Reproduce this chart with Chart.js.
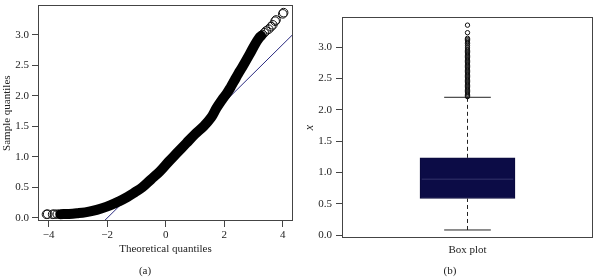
<!DOCTYPE html>
<html><head><meta charset="utf-8">
<script src="https://cdn.jsdelivr.net/npm/chart.js@4.4.1/dist/chart.umd.min.js"></script>
<style>
html,body{margin:0;padding:0;background:#fff;width:598px;height:277px;overflow:hidden}
#wa{position:absolute;left:0;top:0;width:300px;height:277px}
#wb{position:absolute;left:300px;top:0;width:298px;height:277px}
.cap{position:absolute;top:264px;font:11px "Liberation Serif",serif;line-height:13px;color:#222;width:40px;text-align:center}
</style></head><body>
<div id="wa"><canvas id="ca" width="300" height="277"></canvas></div>
<div id="wb"><canvas id="cb" width="298" height="277"></canvas></div>
<div class="cap" style="left:125px">(a)</div>
<div class="cap" style="left:430px">(b)</div>
<script>
// ---- (a) Normal Q-Q plot ----
const bandTheoretical = [-3.6,-3.3,-3.0,-2.75,-2.5,-2.2,-1.9,-1.6,-1.3,-1.05,-0.8,-0.5,-0.2,0.1,0.4,0.7,1.0,1.3,1.55,1.74,1.92,2.09,2.22,2.35,2.48,2.62,2.87,3.05,3.2,3.26];
const bandSample      = [0.062,0.066,0.078,0.092,0.115,0.155,0.205,0.27,0.345,0.42,0.5,0.63,0.76,0.92,1.07,1.22,1.37,1.5,1.64,1.80,1.93,2.04,2.14,2.25,2.36,2.47,2.68,2.84,2.95,2.98];
const tailTheoretical = [-4.07,-4.03,-3.86,-3.80,-3.70,3.31,3.37,3.43,3.52,3.60,3.66,3.74,3.77,4.00,4.03];
const tailSample      = [0.06,0.062,0.06,0.062,0.062,3.00,3.03,3.06,3.09,3.13,3.16,3.22,3.24,3.34,3.36];
const qqLineX = [-2.1, 4.36];
const qqLineY = [-0.05, 3.01];
const qqXTicks = [-4,-2,0,2,4];
const qqYTicks = [0,0.5,1,1.5,2,2.5,3];

// ---- (b) Box plot ----
const boxQuartiles = [0.586, 0.895, 1.235];   // Q1, median, Q3
const whiskerEnds  = [0.085, 2.20];           // lower, upper
const outlierValues = [2.21,2.23,2.25,2.27,2.29,2.31,2.33,2.35,2.37,2.39,2.41,2.43,2.45,2.47,2.49,2.51,2.53,2.55,2.57,2.59,2.61,2.63,2.65,2.67,2.69,2.71,2.73,2.75,2.77,2.79,2.81,2.83,2.85,2.87,2.89,2.91,2.93,2.95,2.97,3.00,3.03,3.06,3.08,3.10,3.12,3.14,3.23,3.35];

const FONT = 'Liberation Serif';
const TXT = '#222';
const AX = '#444';

const framePlugin = {
  id: 'frame',
  afterDraw(chart) {
    const {ctx, chartArea: a} = chart;
    ctx.save();
    ctx.strokeStyle = AX; ctx.lineWidth = 1;
    const l = Math.floor(a.left) + 0.5, t = Math.floor(a.top) + 0.5;
    const r = Math.floor(a.right) - 0.5, b = Math.floor(a.bottom) - 0.5;
    ctx.strokeRect(l, t, r - l, b - t);
    ctx.restore();
  }
};
function fixW(w){ return s => { s.width = w; s.paddingTop = 0; s.paddingBottom = 0; s.paddingLeft = 0; s.paddingRight = 0; }; }
function fixH(h){ return s => { s.height = h; s.paddingTop = 0; s.paddingBottom = 0; s.paddingLeft = 0; s.paddingRight = 0; }; }
const pts = (xs, ys) => xs.map((x, i) => ({x, y: ys[i]}));
const minus = v => (v < 0 ? '\u2212' : '') + Math.abs(v);

new Chart(document.getElementById('ca'), {
  type: 'scatter',
  data: { datasets: [
    { data: pts(bandTheoretical, bandSample), showLine: true, borderColor: '#000', borderWidth: 10,
      borderCapStyle: 'round', borderJoinStyle: 'round', tension: 0.4, pointRadius: 0, clip: false },
    { data: pts(tailTheoretical, tailSample), showLine: false, pointRadius: 4.3, pointBorderWidth: 1,
      pointBorderColor: '#111', pointBackgroundColor: 'rgba(0,0,0,0)' },
    { data: pts(qqLineX, qqLineY), showLine: true, borderColor: '#2b2b80', borderWidth: 1, pointRadius: 0 }
  ]},
  options: {
    responsive: false, animation: false, events: [],
    layout: { padding: { left: 0, right: 7, top: 1, bottom: 0 } },
    plugins: { legend: { display: false }, tooltip: { enabled: false } },
    scales: {
      x: { type: 'linear', min: -4.36, max: 4.35,
        afterFit: fixH(56),
        afterBuildTicks: s => { s.ticks = qqXTicks.map(v => ({value: v})); },
        grid: { drawOnChartArea: false, drawTicks: true, tickLength: 6, color: AX },
        border: { display: false },
        ticks: { padding: 2, color: TXT, maxRotation: 0, autoSkip: false, font: { family: FONT, size: 11 }, callback: minus },
        title: { display: true, text: 'Theoretical quantiles', color: TXT, font: { family: FONT, size: 11 }, padding: { top: 0, bottom: 21 } } },
      y: { type: 'linear', min: -0.05, max: 3.48,
        afterFit: fixW(38),
        afterBuildTicks: s => { s.ticks = qqYTicks.map(v => ({value: v})); },
        grid: { drawOnChartArea: false, drawTicks: true, tickLength: 6, color: AX },
        border: { display: false },
        ticks: { padding: 3, color: TXT, font: { family: FONT, size: 11 }, callback: v => v.toFixed(1) },
        title: { display: true, text: 'Sample quantiles', color: TXT, font: { family: FONT, size: 11 }, padding: { top: 1, bottom: 0 } } }
    }
  },
  plugins: [framePlugin]
});

const bx = 1, boxHalf = 0.375, capHalf = 0.186;
new Chart(document.getElementById('cb'), {
  type: 'scatter',
  data: { datasets: [
    { data: [{x: bx - boxHalf + 0.01, y: boxQuartiles[1]}, {x: bx + boxHalf - 0.01, y: boxQuartiles[1]}], showLine: true,
      borderColor: '#26265e', borderWidth: 1.5, pointRadius: 0 },
    { data: outlierValues.map(v => ({x: bx, y: v})), showLine: false, pointRadius: 2.2, pointBorderWidth: 1,
      pointBorderColor: '#111', pointBackgroundColor: 'rgba(0,0,0,0)' },
    { data: [{x: bx - capHalf, y: whiskerEnds[1]}, {x: bx + capHalf, y: whiskerEnds[1]}], showLine: true, borderColor: '#222', borderWidth: 1, pointRadius: 0 },
    { data: [{x: bx - capHalf, y: whiskerEnds[0]}, {x: bx + capHalf, y: whiskerEnds[0]}], showLine: true, borderColor: '#222', borderWidth: 1, pointRadius: 0 },
    { data: [{x: bx, y: boxQuartiles[2]}, {x: bx, y: whiskerEnds[1]}], showLine: true, borderColor: '#222', borderWidth: 1, borderDash: [4, 3], pointRadius: 0 },
    { data: [{x: bx, y: whiskerEnds[0]}, {x: bx, y: boxQuartiles[0]}], showLine: true, borderColor: '#222', borderWidth: 1, borderDash: [4, 3], pointRadius: 0 },
    { type: 'bar', data: [{x: bx, y: [boxQuartiles[0], boxQuartiles[2]]}], backgroundColor: '#0c0c46',
      borderColor: '#0a0a3c', borderWidth: 1, borderSkipped: false, barThickness: 95 }
  ]},
  options: {
    responsive: false, animation: false, events: [],
    layout: { padding: { left: 0, right: 1, top: 17, bottom: 0 } },
    plugins: { legend: { display: false }, tooltip: { enabled: false } },
    scales: {
      x: { type: 'linear', min: 0, max: 2, offset: false,
        afterFit: fixH(39),
        grid: { display: false }, border: { display: false },
        ticks: { display: false },
        title: { display: true, text: 'Box plot', color: TXT, font: { family: FONT, size: 11 }, padding: { top: 0, bottom: 20 } } },
      y: { type: 'linear', min: -0.043, max: 3.48,
        afterFit: fixW(42),
        afterBuildTicks: s => { s.ticks = qqYTicks.map(v => ({value: v})); },
        grid: { drawOnChartArea: false, drawTicks: true, tickLength: 6, color: AX },
        border: { display: false },
        ticks: { padding: 4, color: TXT, font: { family: FONT, size: 11 }, callback: v => v.toFixed(1) },
        title: { display: true, text: 'x', color: TXT, font: { family: FONT, size: 12, style: 'italic' }, padding: { top: 3, bottom: 0 } } }
    }
  },
  plugins: [framePlugin]
});
</script>
</body></html>
